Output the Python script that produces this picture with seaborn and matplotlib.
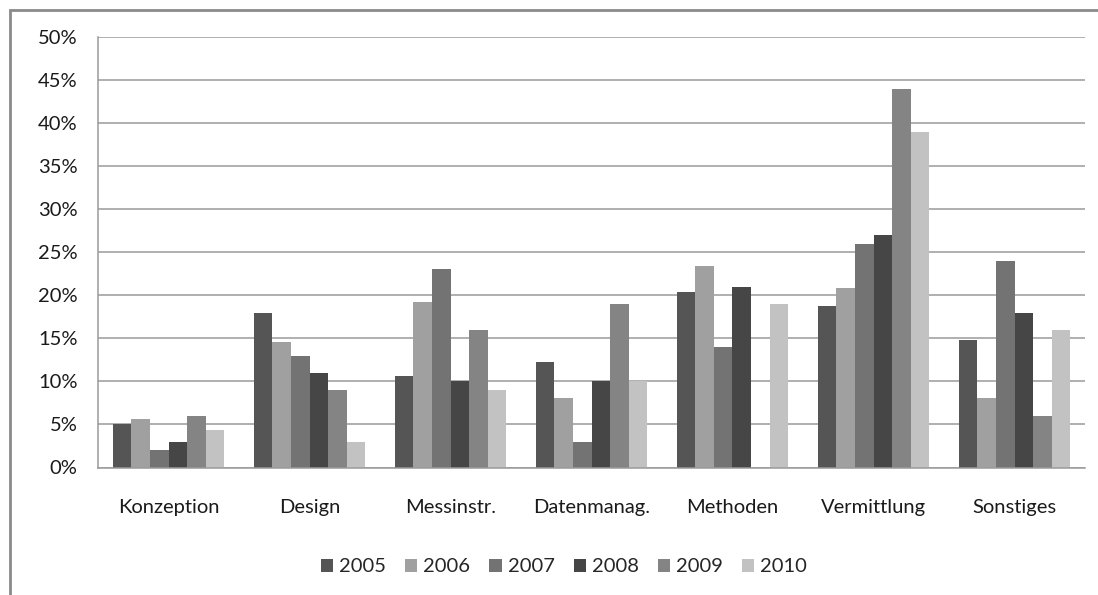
import pandas as pd
import numpy as np
import matplotlib
matplotlib.use('Agg')
import matplotlib.pyplot as plt
import seaborn as sns
from matplotlib.patches import Rectangle
from matplotlib.ticker import FuncFormatter, FixedLocator

# Data (percent)
categories = ['Konzeption', 'Design', 'Messinstr.', 'Datenmanag.', 'Methoden', 'Vermittlung', 'Sonstiges']
years = ['2005', '2006', '2007', '2008', '2009', '2010']
v2005 = [5.0, 18.0, 10.6, 12.2, 20.4, 18.8, 14.8]
v2006 = [5.6, 14.6, 19.2, 8.1, 23.4, 20.8, 8.1]
v2007 = [2.0, 12.9, 23.0, 3.0, 14.0, 26.0, 24.0]
v2008 = [3.0, 11.0, 10.0, 10.0, 21.0, 27.0, 18.0]
v2009 = [6.0, 9.0, 16.0, 19.0, 0.0, 44.0, 6.0]
v2010 = [4.4, 3.0, 9.0, 10.0, 19.0, 39.0, 16.0]
palette = ['#555555', '#a0a0a0', '#737373', '#464646', '#848484', '#c2c2c2']

# Long format for seaborn
rows = []
for year, vals in zip(years, [v2005, v2006, v2007, v2008, v2009, v2010]):
    for cat, v in zip(categories, vals):
        rows.append({'Kategorie': cat, 'Jahr': year, 'Wert': v})
df = pd.DataFrame(rows)

sns.set_style('white')
plt.rcParams['font.family'] = ['Lato', 'DejaVu Sans']

fig = plt.figure(figsize=(10.98, 5.95), dpi=100)
ax = fig.add_axes([98 / 1098, 1 - 467.5 / 595, (1085 - 98) / 1098, (467.5 - 37) / 595])

sns.barplot(data=df, x='Kategorie', y='Wert', hue='Jahr', order=categories,
            hue_order=years, palette=palette, width=0.79, saturation=1,
            edgecolor='none', errorbar=None, ax=ax)

ax.set_ylim(0, 50)
ax.set_xlim(-0.5, len(categories) - 0.5)
ax.set_yticks(np.arange(0, 51, 5))
ax.yaxis.set_major_formatter(FuncFormatter(lambda v, p: f'{int(v)}%'))
ax.grid(axis='y', color='#9a9a9a', linewidth=1.1)
ax.set_axisbelow(True)
ax.set_xlabel('')
ax.set_ylabel('')

for s in ['top', 'right']:
    ax.spines[s].set_visible(False)
for s in ['left', 'bottom']:
    ax.spines[s].set_color('#9a9a9a')
    ax.spines[s].set_linewidth(1.1)

ax.tick_params(axis='y', length=5.8, color='#9a9a9a', width=1.1, labelsize=14.5, pad=9, labelcolor='#1a1a1a')
ax.tick_params(axis='x', which='major', length=0, labelsize=14.5, pad=23, labelcolor='#1a1a1a')
ax.xaxis.set_minor_locator(FixedLocator(np.arange(-0.5, len(categories), 1.0)))
ax.tick_params(axis='x', which='minor', length=5.8, color='#9a9a9a', width=1.1)

handles, labels = ax.get_legend_handles_labels()
ax.legend_.remove()
fig.legend(handles, labels, loc='center', bbox_to_anchor=(564 / 1098, 1 - 567 / 595),
           ncol=6, frameon=False, fontsize=14.5, handlelength=0.6, handleheight=0.6,
           handletextpad=0.3, columnspacing=0.95)

# outer chart border (cropped at right and bottom in the reference)
fig.patches.append(Rectangle((10 / 1098, -0.05), 1.2, 1 - 10 / 595 + 0.05, transform=fig.transFigure,
                             fill=False, edgecolor='#8a8a8a', linewidth=2))

fig.savefig('out.png', dpi=100)
